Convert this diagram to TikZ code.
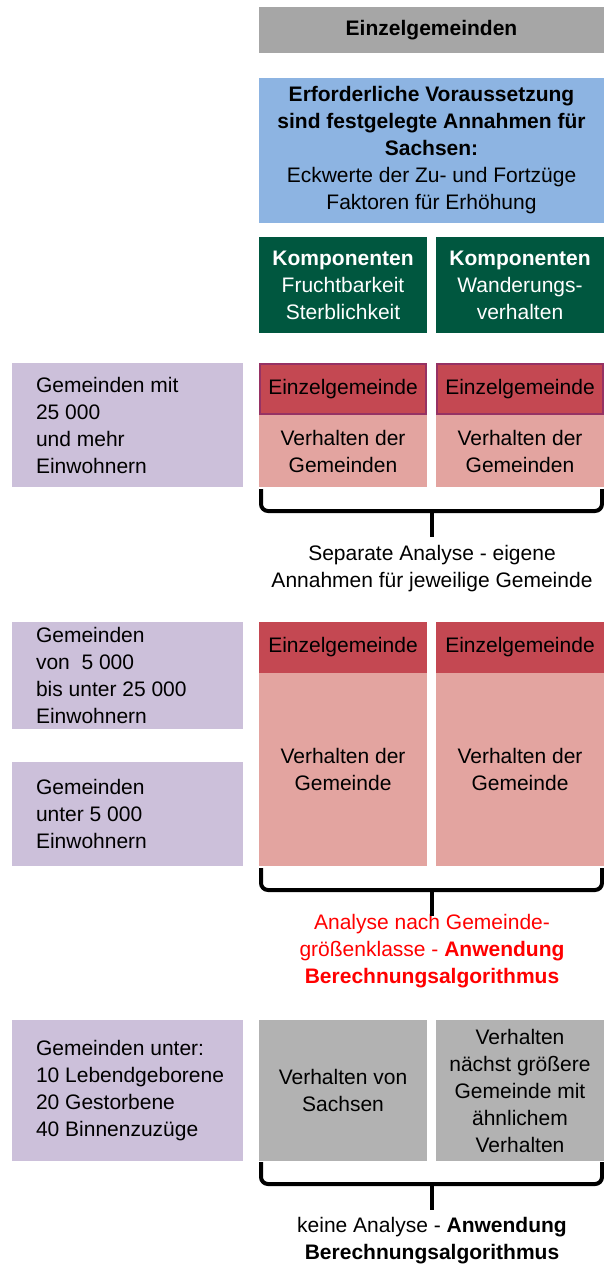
\documentclass[tikz,border=0pt]{standalone}
\usepackage{fontspec}
\setmainfont{Liberation Sans}
\usepackage{xcolor}
\definecolor{cgrau}{RGB}{166,166,166}
\definecolor{cgrauhell}{RGB}{178,178,178}
\definecolor{cblau}{RGB}{141,180,226}
\definecolor{cgruen}{RGB}{0,87,63}
\definecolor{clila}{RGB}{204,192,218}
\definecolor{crot}{RGB}{196,72,82}
\definecolor{crosa}{RGB}{227,164,160}
\definecolor{crand}{RGB}{150,50,100}
\definecolor{ctext}{RGB}{255,0,0}

\begin{document}
\begin{tikzpicture}[x=1pt, y=-1pt,
  every node/.style={font=\fontsize{21}{27}\selectfont},
  feld/.style={inner sep=0pt, outer sep=0pt, align=center, minimum width=168pt},
  links/.style={fill=clila, inner xsep=24pt, inner ysep=0pt, outer sep=0pt, text width=183pt, align=flush left},
  klammer/.style={line width=4pt, rounded corners=7pt}]
\useasboundingbox (0,0) rectangle (604,1265);
% Kopf
\node[feld,fill=cgrau,minimum width=345pt,minimum height=46pt] (titel) at (431.5,30) {\textbf{Einzelgemeinden}};
\node[feld,fill=cblau,minimum width=345pt,minimum height=145pt] (voraus) at (431.5,150.5)
  {\textbf{Erforderliche Voraussetzung}\\\textbf{sind festgelegte Annahmen für}\\\textbf{Sachsen:}\\Eckwerte der Zu- und Fortzüge\\Faktoren für Erhöhung};
\node[feld,fill=cgruen,text=white,minimum height=96pt] (komp1) at (343,285) {\textbf{Komponenten}\\Fruchtbarkeit\\Sterblichkeit};
\node[feld,fill=cgruen,text=white,minimum height=96pt] (komp2) at (520,285) {\textbf{Komponenten}\\Wanderungs-\\verhalten};
% ab 25 000 Einwohner
\node[links,minimum height=124pt] (gr1) at (127.5,425) {Gemeinden mit\\25 000\\und mehr\\Einwohnern};
\foreach \n/\x in {a/343,b/520}
  {\node[feld,fill=crot,draw=crand,line width=2pt,minimum width=166pt,minimum height=50pt] (ez1\n) at (\x,389) {Einzelgemeinde};
   \node[feld,fill=crosa,minimum height=72pt] (vh1\n) at (\x,451) {Verhalten der\\Gemeinden};}
\node[align=center] (txt1) at (432,568.5) {Separate Analyse - eigene\\Annahmen für jeweilige Gemeinde};
% unter 25 000 Einwohner
\node[links,minimum height=107pt] (gr2) at (127.5,675.5) {Gemeinden\\von~~5 000\\bis unter 25 000\\Einwohnern};
\node[links,minimum height=104pt] (gr3) at (127.5,814) {Gemeinden\\unter 5 000\\Einwohnern};
\foreach \n/\x in {a/343,b/520}
  {\node[feld,fill=crot,minimum height=51pt] (ez2\n) at (\x,647.5) {Einzelgemeinde};
   \node[feld,fill=crosa,minimum height=193pt] (vh2\n) at (\x,769.5) {Verhalten der\\Gemeinde};}
\node[align=center,text=ctext] (txt2) at (432,951)
  {Analyse nach Gemeinde-\\größenklasse - \textbf{Anwendung}\\\textbf{Berechnungsalgorithmus}};
% kleine Gemeinden
\node[links,minimum height=141pt] (gr4) at (127.5,1090.5) {Gemeinden unter:\\\mbox{10 Lebendgeborene}\\20 Gestorbene\\40 Binnenzuzüge};
\node[feld,fill=cgrauhell,minimum height=141pt] (sa3a) at (343,1090.5) {Verhalten von\\Sachsen};
\node[feld,fill=cgrauhell,minimum height=141pt] (sa3b) at (520,1090.5) {Verhalten\\nächst größere\\Gemeinde mit\\ähnlichem\\Verhalten};
\node[align=center] (txt3) at (432,1240.5) {keine Analyse - \textbf{Anwendung}\\\textbf{Berechnungsalgorithmus}};
% Klammern
\foreach \o in {489,868,1162}
  {\draw[klammer] (261,\o) -- (261,\o+22) -- (602,\o+22) -- (602,\o);
   \draw[line width=4pt] (432,\o+20) -- (432,\o+48);}
\end{tikzpicture}
\end{document}
